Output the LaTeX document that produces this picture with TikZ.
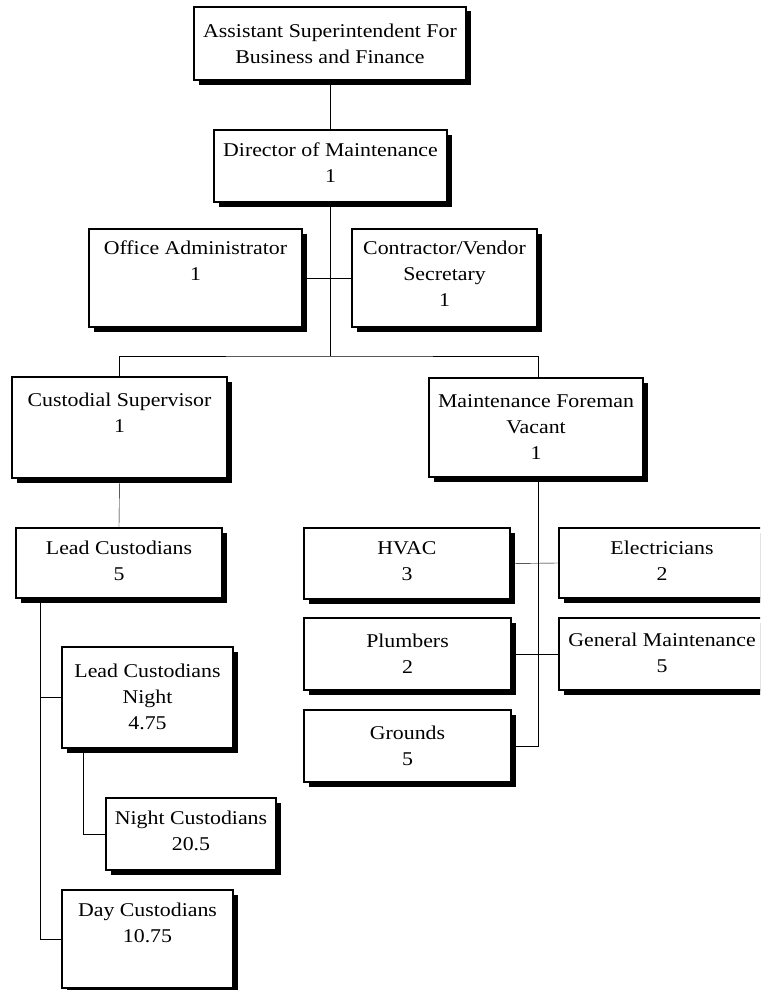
\documentclass[tikz,border=0pt]{standalone}
\usepackage{fontspec}
\setmainfont{Liberation Serif}[FakeStretch=1.12]
\usetikzlibrary{shadows,backgrounds}

\tikzset{
  orgbox/.style={draw, line width=1.6pt, fill=white, inner sep=0pt,
    drop shadow={shadow xshift=4.5pt, shadow yshift=-4.5pt, fill=black, opacity=1}},
  orgtext/.style={anchor=north, align=center, inner sep=0pt,
    font=\fontsize{19.5}{26}\selectfont},
  link/.style={line width=1.4pt},
}

% #1 name, #2 left, #3 top, #4 right, #5 bottom, #6 first baseline below top, #7 text
\newcommand{\OrgUnit}[7]{%
  \node[orgbox, minimum width={#4-#2}, minimum height={#5-#3}]
    (#1) at ({(#2+#4)/2},{(#3+#5)/2}) {};
  \node[orgtext, yshift={-(#6-13.2)}] (#1-t) at (#1.north) {#7};
}

\begin{document}
\begin{tikzpicture}[x=1pt, y=-1pt]
  \clip (0,0) rectangle (760,990);

  % junction points of the connector lines
  \coordinate (bar) at (330,356);
  \coordinate (ltrunk) at (40,598);
  \coordinate (ntrunk) at (83,748);
  \coordinate (mtrunk) at (538,477);
  \coordinate (mtop) at (538,378);

  % boxes
  \OrgUnit{asst}{194}{7}{466}{80}{31}{Assistant Superintendent For\\Business and Finance}
  \OrgUnit{dir}{214}{130}{447}{202}{27}{Director of Maintenance\\1}
  \OrgUnit{office}{89}{229}{302}{327}{26}{Office Administrator\\1}
  \OrgUnit{cont}{352}{229}{537}{327}{26}{Contractor/Vendor\\Secretary\\1}
  \OrgUnit{cust}{12}{377}{227}{478}{30}{Custodial Supervisor\\1}
  \OrgUnit{maint}{429}{378}{643}{477}{30}{Maintenance Foreman\\Vacant\\1}
  \OrgUnit{lead}{16}{528}{222}{598}{27}{Lead Custodians\\5}
  \OrgUnit{hvac}{304}{528}{510}{599}{27}{HVAC\\3}
  \OrgUnit{elec}{559}{528}{765}{598}{27}{Electricians\\2}
  \OrgUnit{plumb}{304}{618}{511}{690}{30}{Plumbers\\2}
  \OrgUnit{gen}{559}{618}{765}{690}{29}{General Maintenance\\5}
  \OrgUnit{grounds}{304}{710}{511}{782}{30}{Grounds\\5}
  \OrgUnit{leadn}{62}{647}{233}{748}{31}{Lead Custodians\\Night\\4.75}
  \OrgUnit{nightc}{106}{798}{276}{870}{27}{Night Custodians\\20.5}
  \OrgUnit{day}{62}{890}{233}{988}{27}{Day Custodians\\10.75}

  % connectors, kept behind the boxes
  \begin{scope}[on background layer, link]
    \draw (asst.south) -- (asst.south |- dir.north);
    \draw (dir.south -| bar) -- (bar);
    \draw (office.east) -- (cont.west);
    \draw (cust.north) |- (bar) -| (mtop);
    \draw (cust.south) -- (lead.north);
    \draw (mtrunk) |- (grounds.east);
    \draw (hvac.east) -- (elec.west);
    \draw (plumb.east) -- (gen.west);
    \draw (ltrunk) |- (day.west);
    \draw (leadn.west) -- (leadn.west -| ltrunk);
    \draw (ntrunk) |- (nightc.west);
  \end{scope}
\end{tikzpicture}
\end{document}
